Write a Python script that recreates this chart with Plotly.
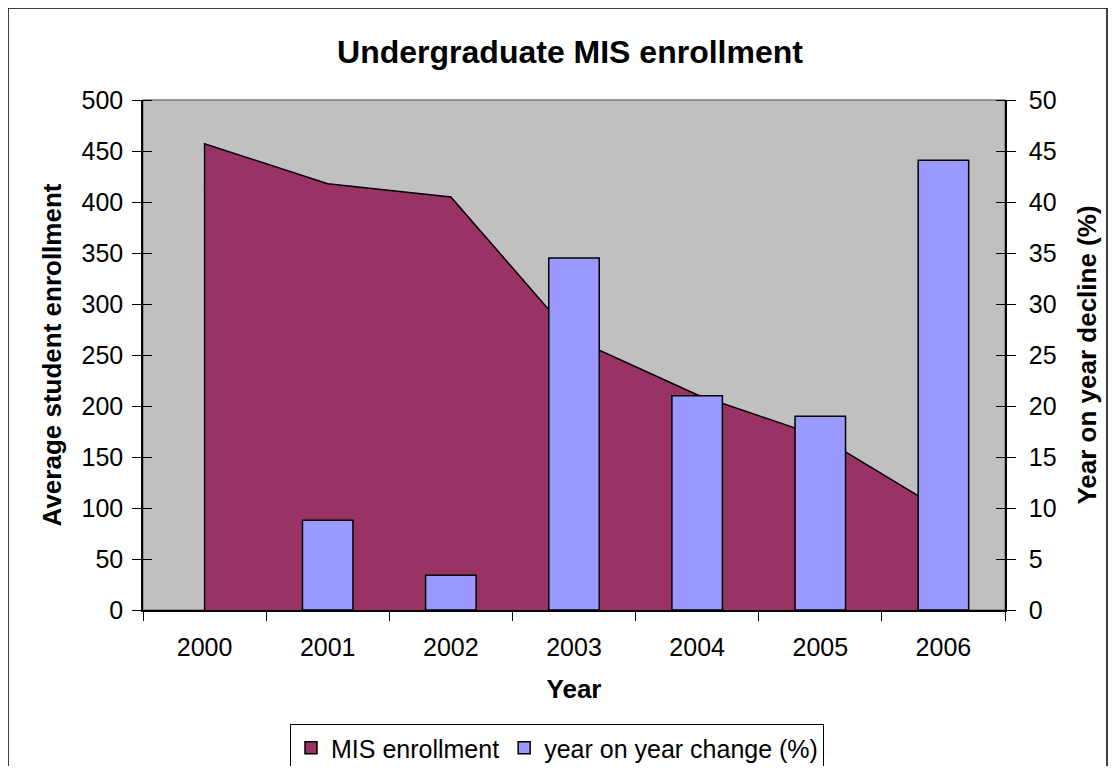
import plotly.graph_objects as go

years = ["2000", "2001", "2002", "2003", "2004", "2005", "2006"]
enrollment = [457, 418, 405, 266, 211, 170, 97]
decline_pct = [None, 8.8, 3.4, 34.5, 21.0, 19.0, 44.1]
left_ticks = [0, 50, 100, 150, 200, 250, 300, 350, 400, 450, 500]
right_ticks = [0, 5, 10, 15, 20, 25, 30, 35, 40, 45, 50]

FONT = "Liberation Sans, Arial, Helvetica, sans-serif"
OFF = 8  # page body margin
W, H = 1100, 758
L, T = 143 - OFF, 100 - OFF
R = W - (1005 - OFF)
B = H - (610 - OFF)
PW, PH = W - L - R, H - T - B

def sx(px):  # screen x -> paper
    return (px - OFF - L) / PW

def sy(py):  # screen y -> paper
    return (H - B - (py - OFF)) / PH

# polygon outline of the area (closed down to the baseline at both ends)
area_x = [years[0]] + years + [years[-1]]
area_y = [0] + enrollment + [0]
# category boundaries (for the inner half of Excel's cross tick marks)
boundaries = [i - 0.5 for i in range(len(years) + 1)]

fig = go.Figure()
fig.add_trace(go.Scatter(
    x=area_x, y=area_y, name="MIS enrollment", mode="lines",
    fill="tozeroy", fillcolor="#993366", showlegend=False,
    line=dict(color="black", width=1.5), yaxis="y",
))
# legend swatch for the area series
fig.add_trace(go.Bar(
    x=[years[0]], y=[None], name="MIS enrollment",
    marker=dict(color="#993366", line=dict(color="black", width=1.5)),
    yaxis="y", showlegend=True,
))
fig.add_trace(go.Bar(
    x=years, y=decline_pct, name="year on year change (%)",
    marker=dict(color="#9999FF", line=dict(color="black", width=1.5)),
    width=0.41, yaxis="y2",
))

fig.update_layout(
    width=W, height=H,
    margin=dict(l=L, r=R, t=T, b=B, autoexpand=False),
    paper_bgcolor="white", plot_bgcolor="#C0C0C0",
    font=dict(family=FONT, size=25, color="black"),
    barmode="overlay",
    title=dict(text="<b>Undergraduate MIS enrollment</b>", x=(570 - OFF) / W, xref="container",
               xanchor="center", y=1 - (52 - OFF) / H, yref="container", yanchor="middle",
               font=dict(size=32, family=FONT)),
    showlegend=True,
    legend=dict(orientation="h", x=sx(557), xanchor="center",
                y=sy(724), yanchor="top", bordercolor="black", borderwidth=1,
                font=dict(size=25), bgcolor="white", traceorder="normal",
                itemwidth=30, tracegroupgap=0),
    xaxis=dict(type="category", categoryorder="array", categoryarray=years,
               tickson="boundaries", ticks="outside", ticklen=9, tickcolor="black",
               showline=True, linecolor="black", linewidth=1.5, showgrid=False,
               zeroline=False, tickfont=dict(size=25), ticklabelstandoff=14,
               title=dict(text="<b>Year</b>", font=dict(size=26), standoff=20),
               range=[-0.5, 6.5]),
    xaxis2=dict(overlaying="x", anchor="y", side="bottom", range=[-0.5, 6.5],
                tickvals=boundaries, ticks="inside", ticklen=9, tickcolor="black",
                showticklabels=False, showgrid=False, zeroline=False, showline=False),
    yaxis=dict(range=[0, 500], tickvals=left_ticks, ticks="outside", ticklen=9,
               tickcolor="black", showline=True, linecolor="black", linewidth=1.5,
               showgrid=False, zeroline=False, tickfont=dict(size=25), ticklabelstandoff=4,
               minor=dict(ticks="inside", ticklen=9, tickvals=left_ticks, tickcolor="black"),
               title=dict(text="<b>Average student enrollment</b>", font=dict(size=26), standoff=12)),
    yaxis2=dict(range=[0, 50], tickvals=right_ticks, overlaying="y", side="right",
                ticks="outside", ticklen=9, tickcolor="black", showline=True,
                linecolor="black", linewidth=1.5, showgrid=False, zeroline=False,
                tickfont=dict(size=25), ticklabelstandoff=8,
                minor=dict(ticks="inside", ticklen=9, tickvals=right_ticks, tickcolor="black"),
                title=dict(text="<b>Year on year decline (%)</b>", font=dict(size=26), standoff=22)),
    shapes=[
        dict(type="rect", xref="paper", yref="paper", x0=0, x1=1, y0=0, y1=1,
             line=dict(color="#808080", width=1.5), layer="below"),
        dict(type="rect", xref="paper", yref="paper",
             x0=sx(8), x1=sx(1107), y0=sy(8), y1=sy(800),
             line=dict(color="black", width=1.5), fillcolor="rgba(0,0,0,0)", layer="below"),
    ],
)

fig.write_html("out.html")
